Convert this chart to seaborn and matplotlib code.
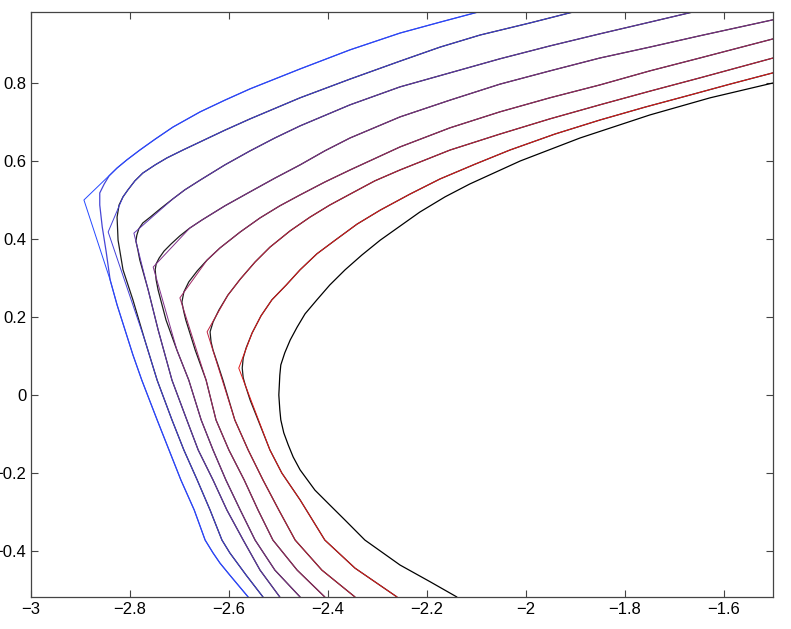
import numpy as np
import pandas as pd
import matplotlib
matplotlib.use("Agg")
import matplotlib.pyplot as plt
import seaborn as sns

# Level curves (exact curves, drawn dark)
c1_x = [-2.096, -2.173, -2.254, -2.355, -2.456, -2.557, -2.608, -2.658, -2.713, -2.749, -2.780,
        -2.806, -2.826, -2.842, -2.852, -2.861, -2.861, -2.856, -2.848, -2.840, -2.826, -2.810,
        -2.794, -2.776, -2.745, -2.721, -2.697, -2.670, -2.648, -2.632, -2.618, -2.598, -2.561]
c1_y = [0.982, 0.956, 0.928, 0.885, 0.836, 0.785, 0.756, 0.726, 0.687, 0.656, 0.628,
        0.603, 0.582, 0.562, 0.541, 0.518, 0.487, 0.431, 0.367, 0.295, 0.231, 0.167,
        0.103, 0.038, -0.064, -0.141, -0.218, -0.295, -0.372, -0.405, -0.431, -0.462, -0.518]

c2_x = [-1.904, -1.991, -2.092, -2.173, -2.254, -2.355, -2.456, -2.557, -2.608, -2.658, -2.693,
        -2.725, -2.749, -2.774, -2.790, -2.804, -2.814, -2.822, -2.826, -2.824, -2.814, -2.794,
        -2.770, -2.745, -2.715, -2.691, -2.664, -2.638, -2.614, -2.598, -2.565, -2.531]
c2_y = [0.982, 0.954, 0.923, 0.892, 0.856, 0.810, 0.762, 0.708, 0.679, 0.649, 0.628,
        0.608, 0.590, 0.569, 0.549, 0.526, 0.508, 0.487, 0.456, 0.397, 0.321, 0.244,
        0.141, 0.038, -0.064, -0.141, -0.218, -0.295, -0.372, -0.405, -0.462, -0.518]

c3_x = [-1.662, -1.749, -1.850, -1.951, -2.052, -2.153, -2.254, -2.355, -2.456, -2.507, -2.557,
        -2.608, -2.658, -2.689, -2.713, -2.739, -2.759, -2.774, -2.782, -2.786, -2.788, -2.784,
        -2.780, -2.763, -2.743, -2.715, -2.685, -2.662, -2.632, -2.604, -2.571, -2.537, -2.497]
c3_y = [0.982, 0.956, 0.926, 0.895, 0.862, 0.826, 0.790, 0.744, 0.690, 0.659, 0.626,
        0.590, 0.551, 0.526, 0.503, 0.477, 0.456, 0.441, 0.426, 0.410, 0.395, 0.372,
        0.346, 0.269, 0.167, 0.038, -0.064, -0.141, -0.218, -0.295, -0.372, -0.449, -0.518]

c4_x = [-1.500, -1.648, -1.749, -1.850, -1.951, -2.052, -2.153, -2.254, -2.355, -2.406, -2.456,
        -2.507, -2.557, -2.608, -2.654, -2.679, -2.699, -2.717, -2.731, -2.741, -2.747, -2.749,
        -2.747, -2.743, -2.727, -2.705, -2.681, -2.656, -2.632, -2.606, -2.577, -2.547, -2.507, -2.456]
c4_y = [0.962, 0.921, 0.892, 0.864, 0.831, 0.797, 0.756, 0.713, 0.659, 0.626, 0.590,
        0.556, 0.521, 0.485, 0.449, 0.428, 0.408, 0.387, 0.369, 0.351, 0.336, 0.321,
        0.295, 0.269, 0.192, 0.115, 0.038, -0.064, -0.141, -0.218, -0.295, -0.372, -0.449, -0.518]

c5_x = [-1.500, -1.648, -1.749, -1.850, -1.951, -2.052, -2.153, -2.254, -2.355, -2.406, -2.456,
        -2.497, -2.537, -2.577, -2.618, -2.644, -2.664, -2.681, -2.691, -2.695, -2.691, -2.687,
        -2.668, -2.646, -2.626, -2.600, -2.569, -2.541, -2.511, -2.462, -2.406]
c5_y = [0.913, 0.864, 0.831, 0.795, 0.762, 0.726, 0.685, 0.636, 0.577, 0.546, 0.513,
        0.485, 0.454, 0.418, 0.377, 0.346, 0.318, 0.290, 0.264, 0.238, 0.213, 0.192,
        0.115, 0.038, -0.064, -0.141, -0.218, -0.295, -0.372, -0.449, -0.518]

c6_x = [-1.500, -1.648, -1.749, -1.850, -1.951, -2.052, -2.153, -2.254, -2.305, -2.355, -2.396,
        -2.436, -2.476, -2.517, -2.547, -2.577, -2.602, -2.620, -2.632, -2.638, -2.636, -2.632,
        -2.622, -2.612, -2.600, -2.588, -2.561, -2.531, -2.499, -2.466, -2.412, -2.345]
c6_y = [0.864, 0.813, 0.779, 0.744, 0.708, 0.669, 0.628, 0.577, 0.549, 0.515, 0.487,
        0.456, 0.421, 0.379, 0.341, 0.297, 0.256, 0.218, 0.187, 0.162, 0.136, 0.115,
        0.077, 0.038, -0.013, -0.064, -0.141, -0.218, -0.295, -0.372, -0.449, -0.518]

c7_x = [-1.500, -1.587, -1.668, -1.759, -1.850, -1.941, -2.032, -2.102, -2.173, -2.234, -2.294,
        -2.341, -2.385, -2.422, -2.456, -2.484, -2.513, -2.535, -2.553, -2.565, -2.571, -2.573,
        -2.571, -2.567, -2.557, -2.541, -2.517, -2.493, -2.456, -2.406, -2.345, -2.260]
c7_y = [0.826, 0.797, 0.769, 0.738, 0.705, 0.669, 0.628, 0.592, 0.554, 0.515, 0.474,
        0.438, 0.397, 0.362, 0.321, 0.282, 0.244, 0.203, 0.159, 0.121, 0.095, 0.069,
        0.044, 0.026, -0.013, -0.064, -0.141, -0.200, -0.269, -0.372, -0.444, -0.518]

c8_x = [-1.500, -1.627, -1.749, -1.890, -2.011, -2.113, -2.163, -2.214, -2.254, -2.294, -2.331,
        -2.365, -2.396, -2.422, -2.446, -2.462, -2.476, -2.487, -2.495, -2.497, -2.499, -2.497,
        -2.495, -2.489, -2.480, -2.470, -2.456, -2.426, -2.396, -2.365, -2.325, -2.254, -2.193, -2.139]
c8_y = [0.800, 0.762, 0.718, 0.659, 0.600, 0.541, 0.508, 0.469, 0.433, 0.397, 0.359,
        0.321, 0.282, 0.244, 0.208, 0.174, 0.141, 0.108, 0.077, 0.051, 0.000, -0.038,
        -0.064, -0.097, -0.128, -0.159, -0.192, -0.244, -0.282, -0.321, -0.372, -0.436, -0.479, -0.518]

# Sharp corners of the coloured approximations (curves 1..7)
kink_x = [-2.893, -2.844, -2.792, -2.753, -2.699, -2.644, -2.580]
kink_y = [0.500, 0.418, 0.415, 0.328, 0.249, 0.162, 0.069]

x_ticks = [-3, -2.8, -2.6, -2.4, -2.2, -2, -1.8, -1.6]
x_labels = ["\u22123", "\u22122.8", "\u22122.6", "\u22122.4", "\u22122.2", "\u22122", "\u22121.8", "\u22121.6"]
y_ticks = [-0.4, -0.2, 0, 0.2, 0.4, 0.6, 0.8]
y_labels = ["\u22120.4", "\u22120.2", "0", "0.2", "0.4", "0.6", "0.8"]

sns.set_style("ticks")
plt.rcParams["font.family"] = ["Liberation Sans", "DejaVu Sans"]

fig = plt.figure(figsize=(7.91, 6.29), dpi=100)
ax = fig.add_axes([31 / 791, 1 - 597 / 629, 742 / 791, 585 / 629])

curves = [(c1_x, c1_y), (c2_x, c2_y), (c3_x, c3_y), (c4_x, c4_y),
          (c5_x, c5_y), (c6_x, c6_y), (c7_x, c7_y)]
colors = sns.blend_palette(["#2448ff", "#e01818"], len(curves))
exact_colors = ["#4646d6"] + ["#1c1c1c"] * (len(curves) - 1) + ["black"]

# exact curves
for (cx, cy), ec in zip(curves + [(c8_x, c8_y)], exact_colors):
    sns.lineplot(x=cx, y=cy, sort=False, estimator=None, color=ec, lw=0.9, ax=ax)

# coloured approximations: same curve with the corner cut sharp
for (cx, cy), kx, ky, col in zip(curves, kink_x, kink_y, colors):
    df = pd.DataFrame({"x": cx, "y": cy})
    upper = df[df["y"] >= ky + 0.08]
    lower = df[df["y"] <= ky - 0.2]
    approx = pd.concat([upper, pd.DataFrame({"x": [kx], "y": [ky]}), lower])
    sns.lineplot(data=approx, x="x", y="y", sort=False, estimator=None, color=col, lw=0.7, ax=ax)

ax.set_xlim(-3, -1.5)
ax.set_ylim(-0.518, 0.982)
ax.set_xticks(x_ticks)
ax.set_xticklabels(x_labels)
ax.set_yticks(y_ticks)
ax.set_yticklabels(y_labels)
ax.set_xlabel("")
ax.set_ylabel("")
ax.tick_params(direction="in", top=True, right=True, length=5, width=0.8,
               color="#444444", labelsize=12, labelcolor="black")
for s in ax.spines.values():
    s.set_visible(True)
    s.set_color("#444444")
    s.set_linewidth(0.9)

fig.savefig("out.png", dpi=100)
